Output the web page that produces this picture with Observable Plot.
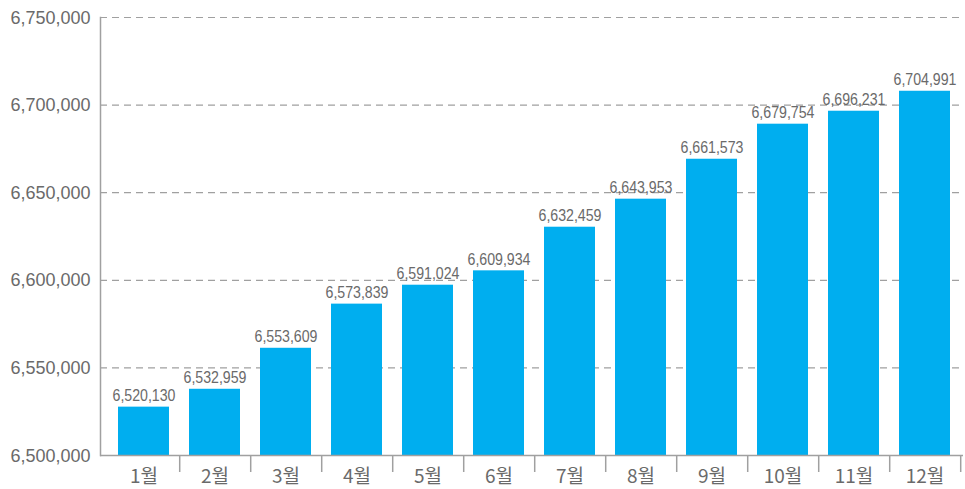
<!DOCTYPE html>
<html>
<head>
<meta charset="utf-8">
<script src="https://cdn.jsdelivr.net/npm/d3@7"></script>
<script src="https://cdn.jsdelivr.net/npm/@observablehq/plot@0.6"></script>
<style>
  html, body { margin: 0; padding: 0; background: #fff; }
</style>
</head>
<body>
<div id="chart"></div>
<script>
const months = ["1월","2월","3월","4월","5월","6월","7월","8월","9월","10월","11월","12월"];
// bar heights as drawn in the picture
const barValues = [6527600, 6537800, 6561200, 6586400, 6597200, 6605400, 6630300, 6646300, 6669100, 6689100, 6696500, 6707900];
// value labels printed above the bars
const valueLabels = ["6,520,130","6,532,959","6,553,609","6,573,839","6,591,024","6,609,934","6,632,459","6,643,953","6,661,573","6,679,754","6,696,231","6,704,991"];
const yTicks = [6500000, 6550000, 6600000, 6650000, 6700000, 6750000];
const gridTicks = [6550000, 6600000, 6650000, 6700000, 6750000];

const data = months.map((m, i) => ({month: m, value: barValues[i], label: valueLabels[i]}));

const W = 965, H = 489;
const mL = 100, mR = 2, mT = 17, mB = 34;
const x0 = 106, x1 = 963;
const step = (x1 - x0) / months.length;

const chart = Plot.plot({
  width: W,
  height: H,
  marginLeft: mL,
  marginRight: mR,
  marginTop: mT,
  marginBottom: mB,
  style: {background: "#fff"},
  x: {domain: months, range: [x0, x1], paddingInner: 0.275, paddingOuter: 0.1375, label: null},
  y: {domain: [6500000, 6750000], label: null},
  marks: [
    Plot.ruleY(gridTicks, {y: d => d, stroke: "#a0a0a0", strokeWidth: 1.2, strokeDasharray: "7,5"}),
    Plot.barY(data, {x: "month", y1: 6500000, y2: "value", fill: "#00AEEF"}),
    Plot.ruleY([6500000], {stroke: "#a0a0a0", strokeWidth: 1.5}),
    Plot.frame({anchor: "left", stroke: "#a0a0a0", strokeWidth: 1.5}),
    Plot.ruleX(months, {x: d => d, y1: 6500000, y2: 6490300, dx: step / 2, stroke: "#a0a0a0", strokeWidth: 1.5}),
    Plot.text(data, {x: "month", y: "value", text: "label", lineAnchor: "bottom", dy: -6,
      fill: "#6a6a6a", fontSize: 16, fontFamily: "Liberation Sans, Arial, sans-serif", className: "vlabel"}),
    Plot.axisY(yTicks, {tickSize: 0, tickPadding: 10, tickFormat: d3.format(","), label: null,
      fill: "#6a6a6a", fontSize: 19, fontFamily: "Liberation Sans, Arial, sans-serif", className: "ylabel"}),
    Plot.axisX({tickSize: 0, tickPadding: 14, label: null,
      fill: "#6a6a6a", fontSize: 19, fontFamily: "Noto Sans CJK KR, sans-serif"})
  ]
});
// condense the number glyphs to the narrow look of the original
chart.querySelectorAll(".vlabel text").forEach(t => {
  t.setAttribute("textLength", 63);
  t.setAttribute("lengthAdjust", "spacingAndGlyphs");
});
chart.querySelectorAll(".ylabel text").forEach(t => {
  t.setAttribute("textLength", 80);
  t.setAttribute("lengthAdjust", "spacingAndGlyphs");
});
document.getElementById("chart").appendChild(chart);
</script>
</body>
</html>
